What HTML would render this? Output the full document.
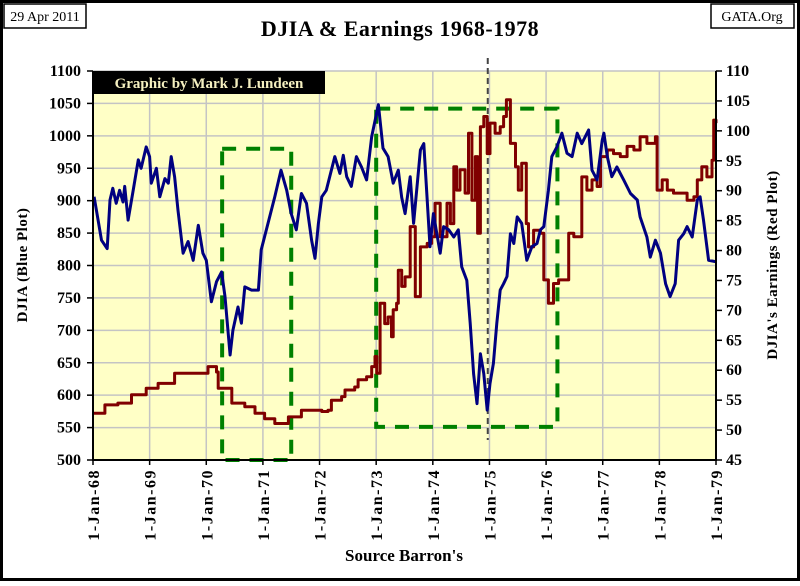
<!DOCTYPE html>
<html><head><meta charset="utf-8"><style>
body{margin:0;background:#fff}
svg text{font-family:"Liberation Serif",serif}
</style></head><body>
<svg id="c" width="800" height="581" xmlns="http://www.w3.org/2000/svg">
<rect x="1.5" y="1.5" width="797" height="578" fill="#fff" stroke="#000" stroke-width="3"/>
<rect x="4" y="4" width="82" height="24" fill="#fff" stroke="#000" stroke-width="1.5"/>
<text x="45" y="21" font-size="14" text-anchor="middle">29 Apr 2011</text>
<rect x="711" y="4" width="83" height="24" fill="#fff" stroke="#000" stroke-width="1.5"/>
<text x="752" y="21" font-size="14" text-anchor="middle">GATA.Org</text>
<text x="400" y="36" font-size="22" font-weight="bold" text-anchor="middle" letter-spacing="0.5">DJIA &amp; Earnings 1968-1978</text>
<rect x="93" y="71" width="623" height="389" fill="#ffffc6"/>
<g id="grid"></g>
<g id="boxes"></g>
<g id="series"></g>
<rect x="93" y="71" width="232" height="23" fill="#000"/>
<text x="209" y="88" font-size="15" font-weight="bold" fill="#f5f0c0" text-anchor="middle">Graphic by Mark J. Lundeen</text>
<g id="axes"></g>
<text transform="translate(27,265) rotate(-90)" font-size="15" font-weight="bold" text-anchor="middle" letter-spacing="0.5">DJIA (Blue Plot)</text>
<text transform="translate(777,265) rotate(-90)" font-size="15" font-weight="bold" text-anchor="middle" letter-spacing="0.5">DJIA's Earnings (Red Plot)</text>
<text x="404" y="561" font-size="17" font-weight="bold" text-anchor="middle">Source Barron's</text>
</svg>
<script>
const djiaDates=[68.02,68.09,68.15,68.25,68.30,68.35,68.41,68.47,68.53,68.56,68.62,68.71,68.80,68.85,68.94,69.00,69.03,69.12,69.18,69.27,69.33,69.38,69.44,69.50,69.59,69.68,69.77,69.86,69.94,70.00,70.09,70.18,70.27,70.33,70.42,70.47,70.56,70.62,70.68,70.80,70.92,70.97,71.09,71.21,71.32,71.42,71.50,71.59,71.68,71.77,71.86,71.92,71.98,72.04,72.12,72.27,72.36,72.42,72.48,72.56,72.65,72.74,72.83,72.92,73.04,73.12,73.21,73.30,73.39,73.45,73.51,73.60,73.66,73.78,73.84,73.90,73.95,74.01,74.13,74.19,74.28,74.37,74.45,74.51,74.60,74.66,74.72,74.78,74.84,74.90,74.96,75.01,75.07,75.13,75.19,75.25,75.31,75.37,75.43,75.49,75.57,75.66,75.75,75.84,75.90,75.96,76.04,76.10,76.19,76.28,76.37,76.46,76.55,76.63,76.75,76.81,76.90,76.99,77.02,77.08,77.16,77.25,77.37,77.49,77.61,77.66,77.78,77.84,77.93,78.02,78.11,78.19,78.28,78.34,78.43,78.49,78.58,78.67,78.72,78.78,78.87,78.99];
const djiaValues=[906,870,839,826,901,919,896,916,898,922,870,916,963,950,983,968,927,950,906,934,927,968,937,885,819,837,808,862,819,808,744,775,790,752,662,700,736,711,767,762,762,824,865,906,947,916,880,855,911,896,839,811,865,906,916,968,942,970,937,922,968,952,932,999,1048,981,968,927,947,905,880,937,865,978,988,901,829,880,819,860,855,844,855,798,777,711,633,587,664,633,577,618,649,711,762,772,783,849,834,875,865,808,829,834,855,860,916,968,983,1004,973,968,1004,988,1009,947,932,993,1004,968,937,952,932,911,901,875,844,813,839,819,772,752,772,839,849,860,844,901,906,870,808,806];
const earnDates=[68.0,68.21,68.44,68.68,68.94,69.15,69.44,69.86,70.03,70.18,70.21,70.42,70.45,70.68,70.86,71.03,71.21,71.39,71.45,71.68,72.04,72.15,72.21,72.39,72.45,72.62,72.68,72.83,72.92,72.98,73.01,73.07,73.15,73.21,73.27,73.30,73.36,73.39,73.45,73.51,73.60,73.69,73.78,73.90,73.98,74.04,74.13,74.25,74.31,74.37,74.42,74.48,74.57,74.63,74.69,74.75,74.79,74.84,74.90,74.96,75.01,75.10,75.19,75.25,75.30,75.37,75.46,75.51,75.57,75.65,75.69,75.78,75.90,75.96,76.04,76.13,76.22,76.31,76.40,76.49,76.60,76.63,76.72,76.81,76.90,76.96,77.08,77.19,77.31,77.43,77.55,77.66,77.78,77.93,77.96,78.05,78.14,78.25,78.37,78.49,78.61,78.67,78.75,78.84,78.93,78.96,79.00];
const earnValues=[52.8,54.2,54.5,55.9,57.0,57.8,59.5,59.5,60.6,59.7,57.0,57.0,54.5,53.9,52.8,51.9,51.1,51.1,52.2,53.3,53.1,53.3,55.0,55.6,56.7,57.2,58.4,58.9,60.6,62.3,59.5,71.2,67.8,68.9,65.6,70.1,71.2,76.7,74.0,75.6,84.0,72.3,80.6,81.2,82.3,87.9,82.3,87.9,84.5,94.0,90.1,93.5,89.6,99.6,88.4,95.7,82.9,100.7,102.4,96.2,101.3,99.6,100.7,102.4,105.2,97.9,94.0,90.1,94.6,84.5,80.6,83.4,82.9,75.1,71.2,74.5,75.1,75.1,82.9,82.3,82.3,92.3,90.1,91.8,90.7,95.7,96.8,96.2,95.7,97.4,96.8,99.0,97.9,99.0,90.1,91.8,90.1,89.6,89.6,88.4,89.0,91.8,94.0,92.3,95.1,101.8,101.3];
const leftTicks=[500,550,600,650,700,750,800,850,900,950,1000,1050,1100];
const rightTicks=[45,50,55,60,65,70,75,80,85,90,95,100,105,110];
const yearTicks=[68,69,70,71,72,73,74,75,76,77,78,79];
const box1=[70.28,71.5,980,500];
const box2=[73.0,76.2,1042,551];
const markerYear=[74.97];

const X0=93,X1=716,Y0=460,Y1=71;
const xs=v=>X0+(v-68)/11*(X1-X0);
const yl=v=>Y0-(v-500)/600*(Y0-Y1);
const yr=v=>Y0-(v-45)/65*(Y0-Y1);
const NS='http://www.w3.org/2000/svg';
function mk(t,p,a){const e=document.createElementNS(NS,t);for(const k in a)e.setAttribute(k,a[k]);p.appendChild(e);return e;}
const grid=document.getElementById('grid'),axes=document.getElementById('axes'),boxes=document.getElementById('boxes'),series=document.getElementById('series');

leftTicks.forEach(v=>{
 const g=mk('line',grid,{x1:X0,x2:X1,y1:yl(v),y2:yl(v),stroke:'#c4c4c4','stroke-width':1.5});
 
 
 const tk=mk('line',axes,{x1:X0-6,x2:X0,y1:yl(v),y2:yl(v),stroke:'#000','stroke-width':1.5});
 
 
 const t=mk('text',axes,{x:X0-12,y:yl(v)+5,'font-size':16,'font-weight':'bold','text-anchor':'end'});
 t.textContent=v;
 
 
});
rightTicks.forEach(v=>{
 const tk=mk('line',axes,{x1:X1,x2:X1+6,y1:yr(v),y2:yr(v),stroke:'#000','stroke-width':1.5});
 
 
 const t=mk('text',axes,{x:X1+10,y:yr(v)+5,'font-size':16,'font-weight':'bold'});
 t.textContent=v;
 
 
});
yearTicks.forEach(v=>{
 const x=xs(v);
 const g=mk('line',grid,{x1:x,x2:x,y1:Y1,y2:Y0,stroke:'#c4c4c4','stroke-width':1.5});
 
 
 const tk=mk('line',axes,{x1:x,x2:x,y1:Y0,y2:Y0+5,stroke:'#000','stroke-width':1.5});
 
 
 const t=mk('text',axes,{transform:`translate(${x+6},${Y0+9}) rotate(-90)`,'font-size':16,'font-weight':'bold','text-anchor':'end','letter-spacing':'1.5'});
 t.textContent='1-Jan-'+v;
 
 
});
const al=mk('path',axes,{d:`M${X0},${Y1}V${Y0}H${X1}V${Y1}`,fill:'none',stroke:'#000','stroke-width':2});



[box1,box2].forEach((b,i)=>{
 const r=mk('rect',boxes,{x:xs(b[0]),y:yl(b[2]),width:xs(b[1])-xs(b[0]),height:yl(b[3])-yl(b[2]),fill:'none',stroke:'#008000','stroke-width':4,'stroke-dasharray':'14 10'});
 
 
});
const mx=xs(markerYear[0]);
const ml=mk('line',boxes,{x1:mx,x2:mx,y1:58,y2:440,stroke:'#444','stroke-width':2,'stroke-dasharray':'6 4'});



let d='';
earnDates.forEach((t,i)=>{
 const x=xs(t).toFixed(1),y=yr(earnValues[i]).toFixed(1);
 d+= i===0?`M${x},${y}`:`H${x}V${y}`;
});
const rp=mk('path',series,{d:d,fill:'none',stroke:'#800000','stroke-width':3,'stroke-linejoin':'round'});


const bp=mk('polyline',series,{points:djiaDates.map((t,i)=>xs(t).toFixed(1)+','+yl(djiaValues[i]).toFixed(1)).join(' '),fill:'none',stroke:'#000080','stroke-width':3,'stroke-linejoin':'round'});


</script>
</body></html>
